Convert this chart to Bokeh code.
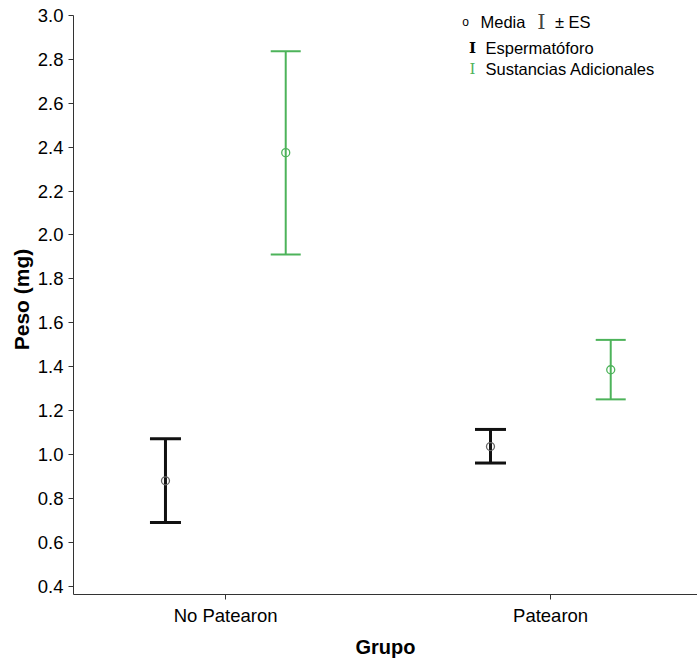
import numpy as np
from bokeh.plotting import figure
from bokeh.models import Range1d, FixedTicker, Whisker, TeeHead, ColumnDataSource, Label
from bokeh.embed import file_html
from bokeh.resources import INLINE

# ---- data ----
grupos = ["No Patearon", "Patearon"]
esp_media = [0.88, 1.036]
esp_inf = [0.69, 0.961]
esp_sup = [1.072, 1.114]
sus_media = [2.375, 1.386]
sus_inf = [1.911, 1.251]
sus_sup = [2.837, 1.522]
y_ticks = [0.4, 0.6, 0.8, 1.0, 1.2, 1.4, 1.6, 1.8, 2.0, 2.2, 2.4, 2.6, 2.8, 3.0]

# ---- styling ----
FONT = "Liberation Sans"
GREEN = "#4DB35A"
BLACK = "#111111"
offset = 0.185

pos = np.arange(1, len(grupos) + 1)

p = figure(width=697, height=661, output_backend="svg", toolbar_location=None,
           x_range=Range1d(0.532, 2.452), y_range=Range1d(0.362, 3.05),
           min_border_left=73, min_border_right=0, min_border_top=4, min_border_bottom=67)
p.outline_line_color = None
p.xgrid.visible = False
p.ygrid.visible = False
p.background_fill_color = "white"
p.border_fill_color = "white"

src_e = ColumnDataSource(dict(x=pos - offset, m=esp_media, lo=esp_inf, hi=esp_sup))
src_s = ColumnDataSource(dict(x=pos + offset, m=sus_media, lo=sus_inf, hi=sus_sup))

we = Whisker(source=src_e, base="x", lower="lo", upper="hi", dimension="height",
             line_color=BLACK, line_width=3,
             lower_head=TeeHead(size=31, line_color=BLACK, line_width=3),
             upper_head=TeeHead(size=31, line_color=BLACK, line_width=3))
ws = Whisker(source=src_s, base="x", lower="lo", upper="hi", dimension="height",
             line_color=GREEN, line_width=2,
             lower_head=TeeHead(size=30, line_color=GREEN, line_width=2),
             upper_head=TeeHead(size=30, line_color=GREEN, line_width=2))
p.add_layout(we)
p.add_layout(ws)
p.scatter("x", "m", source=src_e, size=8, fill_color=None, line_color="#666666", line_width=1.3)
p.scatter("x", "m", source=src_s, size=8, fill_color=None, line_color=GREEN, line_width=1.3)

# axes
for ax in (p.xaxis[0], p.yaxis[0]):
    ax.axis_line_color = "#333333"
    ax.major_tick_line_color = "#333333"
    ax.major_tick_out = 5
    ax.major_tick_in = 0
    ax.minor_tick_line_color = None
    ax.major_label_text_font = FONT
    ax.major_label_text_font_size = "18.5px"
    ax.major_label_text_color = "black"
    ax.axis_label_text_font = FONT
    ax.axis_label_text_font_style = "bold"
    ax.axis_label_text_color = "black"

p.xaxis.ticker = FixedTicker(ticks=list(pos))
p.xaxis.major_label_overrides = {int(i): g for i, g in zip(pos, grupos)}
p.xaxis.axis_label = "Grupo"
p.xaxis.axis_label_text_font_size = "20px"
p.xaxis.major_label_standoff = 5
p.xaxis.axis_label_standoff = 7

p.yaxis.ticker = FixedTicker(ticks=y_ticks)
p.yaxis.major_label_overrides = {t: f"{t:.1f}" for t in y_ticks}
p.yaxis.axis_label = "Peso (mg)"
p.yaxis.axis_label_text_font_size = "21px"
p.yaxis.major_label_standoff = 5
p.yaxis.axis_label_standoff = 2
p.yaxis.bounds = (0.362, 3.0)

# legend (drawn as text, screen units relative to frame bottom-left)
FL, FB = 73, 594
def lab(cx, cy, text, size, color="black", font=FONT, align="left", style="normal"):
    p.add_layout(Label(x=cx - FL, y=FB - cy, x_units="screen", y_units="screen", text=text,
                       text_font=font, text_font_size=size, text_color=color,
                       text_align=align, text_baseline="middle", text_font_style=style))

lab(465, 21, "o", "12px", align="center")
lab(480, 21, "Media", "16.5px")
lab(541, 21, "I", "21px", font="DejaVu Serif", align="center", color="#444444")
lab(559, 21, "±", "16.5px", align="center")
lab(568, 21, "ES", "16.5px")
lab(472, 47, "I", "15px", font="DejaVu Serif", align="center", style="bold")
lab(485, 47, "Espermatóforo", "16.5px")
lab(472, 68, "I", "15px", font="DejaVu Serif", align="center", color=GREEN)
lab(485, 68, "Sustancias Adicionales", "16.5px")

open("out.html", "w").write(file_html(p, INLINE))
